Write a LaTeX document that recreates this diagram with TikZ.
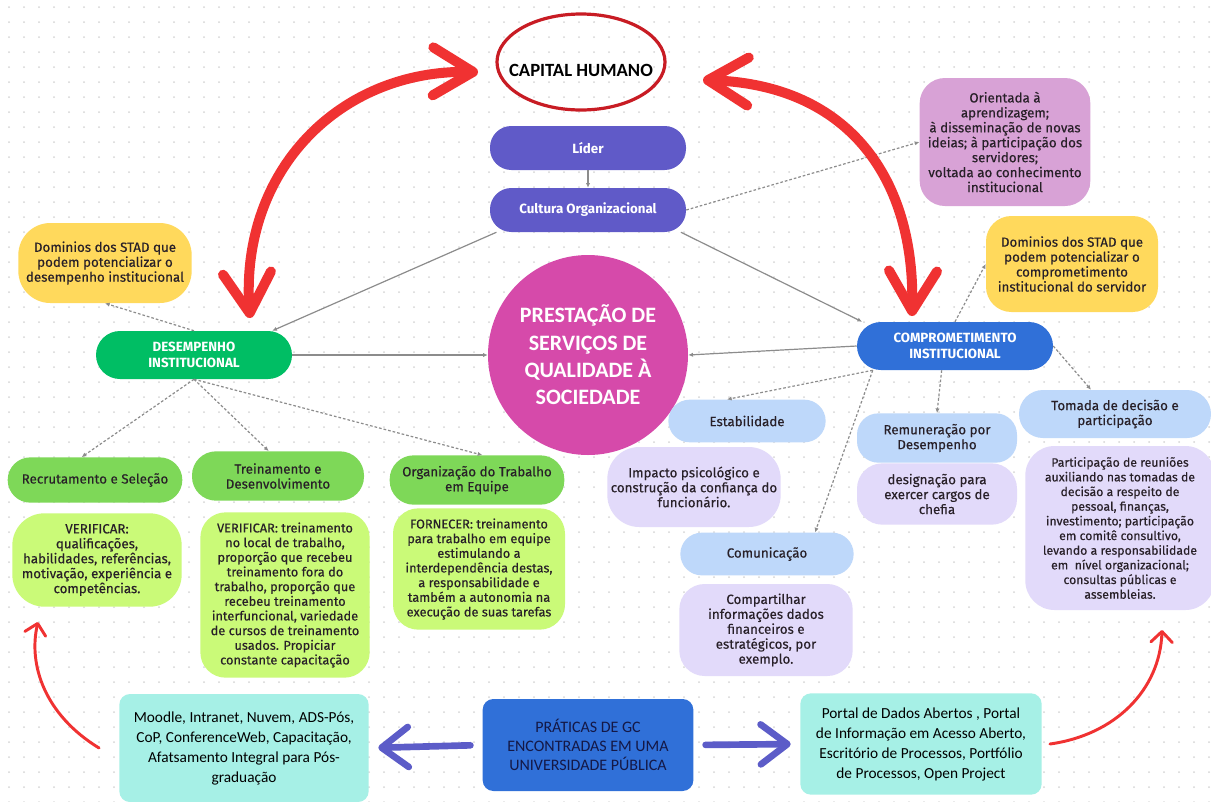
\documentclass[tikz,border=0pt]{standalone}
\usepackage{fontspec}
\setmainfont{Fira Sans}
\newfontfamily\boxfont{Fira Sans}[FakeBold=0.3]
\newfontfamily\condfont{Carlito}
\usepackage{tikz}
\usetikzlibrary{arrows.meta}

\definecolor{inktxt}{RGB}{40,32,40}
\definecolor{gridpt}{RGB}{214,214,214}
\definecolor{ringred}{RGB}{200,28,36}
\definecolor{redarr}{RGB}{240,50,50}
\definecolor{purpbox}{RGB}{96,90,200}
\definecolor{orchid}{RGB}{216,162,214}
\definecolor{sunny}{RGB}{255,217,92}
\definecolor{deskgreen}{RGB}{0,190,100}
\definecolor{leafgreen}{RGB}{126,216,88}
\definecolor{limecard}{RGB}{202,250,120}
\definecolor{magcircle}{RGB}{214,74,170}
\definecolor{royal}{RGB}{48,112,216}
\definecolor{skyblue}{RGB}{190,216,250}
\definecolor{lavcard}{RGB}{226,218,250}
\definecolor{aqua}{RGB}{166,240,230}
\definecolor{gcpurple}{RGB}{92,92,200}
\definecolor{linkgray}{RGB}{140,140,140}
\definecolor{navytxt}{RGB}{20,24,70}

\begin{document}
\begin{tikzpicture}[x=0.75pt,y=0.75pt,yscale=-1,
  txt/.style={align=center,text=inktxt,inner sep=1pt,font=\boxfont\fontsize{10}{11.2}\selectfont},
  pill/.style={txt,fill=#1,rounded corners=16pt},
  card/.style={txt,fill=#1,rounded corners=19pt},
  hub/.style={pill=#1,text=white,font=\bfseries\fontsize{10}{11.5}\selectfont},
  bottombox/.style={align=center,fill=aqua,rounded corners=8pt,text=black,
    font=\condfont\fontsize{11.5}{15}\selectfont},
  link/.style={draw=linkgray,line width=0.9pt,-{Latex[length=3.5pt,width=3.2pt]}},
  dlink/.style={link,dash pattern=on 2pt off 1.5pt},
  bigred/.style={draw=redarr,line width=7.5pt,line cap=round,
    {Straight Barb[length=30pt,width=36pt,round]}-{Straight Barb[length=30pt,width=36pt,round]}},
  smallred/.style={draw=redarr,line width=2.2pt,line cap=round,-{Straight Barb[length=8pt,width=16pt,round]}},
  gcarrow/.style={draw=gcpurple,line width=5pt,line cap=round,-{Straight Barb[length=20pt,width=30pt,round]},
    shorten <=9pt,shorten >=7pt}]
\useasboundingbox (0,0) rectangle (1211,801);
\fill[white] (0,0) rectangle (1211,801);
% dotted background
\foreach \i in {0,...,80}{\foreach \j in {0,...,53}{\fill[gridpt] (\i*15+9,\j*15+7) circle (0.75pt);}}

% Text Node
\node[font=\condfont\bfseries\fontsize{14}{16}\selectfont] (capital) at (581,70) {CAPITAL HUMANO};
\draw[ringred,line width=2.4pt] (capital.center) ++(0,-8) ellipse [x radius=84, y radius=48];
% Text Node
\node[hub=purpbox,minimum width=147pt,minimum height=33pt] (lider) at (588,148) {Líder};
% Text Node
\node[hub=purpbox,minimum width=147pt,minimum height=33pt] (cultura) at (588,210) {Cultura Organizacional};
% Text Node
\node[card=orchid,minimum width=128pt,minimum height=96pt] (orient) at (1005,142) {Orientada à\\aprendizagem;\\à disseminação de novas\\ideias; à participação dos\\servidores;\\voltada ao conhecimento\\institucional};
% Text Node
\node[card=sunny,minimum width=129pt,minimum height=72pt] (stadR) at (1072,264) {Dominios dos STAD que\\podem potencializar o\\comprometimento\\institucional do servidor};
% Text Node
\node[card=sunny,minimum width=130pt,minimum height=60pt,rounded corners=24pt] (stadL) at (105,263) {Dominios dos STAD que\\podem potencializar o\\desempenho institucional};
% Text Node
\node[hub=deskgreen,minimum width=147pt,minimum height=36pt,rounded corners=18pt] (desemp) at (194,355) {DESEMPENHO\\INSTITUCIONAL};
% Text Node
\node[circle,fill=magcircle,minimum size=150pt,inner sep=0pt,align=center,text=white,
  font=\condfont\bfseries\fontsize{16.5}{20.5}\selectfont] (prest) at (588,355) {PRESTAÇÃO DE\\SERVIÇOS DE\\QUALIDADE À\\SOCIEDADE};
% Text Node
\node[hub=royal,minimum width=147pt,minimum height=36pt,rounded corners=18pt] (compr) at (955,346) {COMPROMETIMENTO\\INSTITUCIONAL};
% Text Node
\node[pill=skyblue,minimum width=118pt,minimum height=32pt] (estab) at (747,421) {Estabilidade};
% Text Node
\node[card=lavcard,minimum width=130pt,minimum height=60pt,rounded corners=24pt] (impacto) at (694,487) {Impacto psicológico e\\construção da confiança do\\funcionário.};
% Text Node
\node[pill=skyblue,minimum width=130pt,minimum height=32pt] (comun) at (767,554) {Comunicação};
% Text Node
\node[card=lavcard,minimum width=130pt,minimum height=69pt] (compart) at (766,630) {Compartilhar\\informações dados\\financeiros e\\estratégicos, por\\exemplo.};
% Text Node
\node[card=lavcard,minimum width=120pt,minimum height=46pt] (design) at (937,494) {designação para\\exercer cargos de\\chefia};
% Text Node
\node[pill=skyblue,minimum width=120pt,minimum height=37pt] (remun) at (937,438) {Remuneração por\\Desempenho};
% Text Node
\node[pill=skyblue,minimum width=144pt,minimum height=36pt,rounded corners=18pt] (tomada) at (1115,414) {Tomada de decisão e\\participação};
% Text Node
\node[card=lavcard,minimum width=142pt,minimum height=123pt,rounded corners=22pt,
  font=\boxfont\fontsize{9.2}{11}\selectfont] (partic) at (1120,528) {Participação de reuniões\\auxiliando nas tomadas de\\decisão a respeito de\\pessoal, finanças,\\investimento; participação\\em comitê consultivo,\\levando a responsabilidade\\em\ \ nível organizacional;\\consultas públicas e\\assembleias.};
% Text Node
\node[pill=leafgreen,minimum width=131pt,minimum height=34pt,rounded corners=17pt] (recrut) at (95,480) {Recrutamento e Seleção};
% Text Node
\node[pill=leafgreen,minimum width=129pt,minimum height=37pt,rounded corners=18pt] (trein) at (278,476) {Treinamento e\\Desenvolvimento};
% Text Node
\node[pill=leafgreen,minimum width=131pt,minimum height=37pt,rounded corners=18pt] (organ) at (477,480) {Organização do Trabalho\\em Equipe};
% Text Node
\node[card=limecard,minimum width=127pt,minimum height=70pt,rounded corners=24pt] (verif1) at (97,560) {VERIFICAR:\\qualificações,\\habilidades, referências,\\motivação, experiência e\\competências.};
% Text Node
\node[card=limecard,minimum width=127pt,minimum height=124pt,
  font=\boxfont\fontsize{9.6}{11}\selectfont] (verif2) at (285,595) {VERIFICAR: treinamento\\no local de trabalho,\\proporção que recebeu\\treinamento fora do\\trabalho, proporção que\\recebeu treinamento\\interfuncional, variedade\\de cursos de treinamento\\usados. Propiciar\\constante capacitação};
% Text Node
\node[card=limecard,minimum width=129pt,minimum height=91pt,
  font=\boxfont\fontsize{9.6}{11}\selectfont] (fornec) at (479,569) {FORNECER: treinamento\\para trabalho em equipe\\estimulando a\\interdependência destas,\\a responsabilidade e\\também a autonomia na\\execução de suas tarefas};
% Text Node
\node[bottombox,minimum width=187pt,minimum height=81pt] (moodle) at (244,748) {Moodle, Intranet, Nuvem, ADS-Pós,\\CoP, ConferenceWeb, Capacitação,\\Afatsamento Integral para Pós-\\graduação};
% Text Node
\node[fill=royal,rounded corners=8pt,minimum width=158pt,minimum height=69pt,align=center,text=navytxt,
  font=\condfont\fontsize{12}{14.5}\selectfont] (praticas) at (588,745) {PRÁTICAS DE GC\\ENCONTRADAS EM UMA\\UNIVERSIDADE PÚBLICA};
% Text Node
\node[bottombox,minimum width=181pt,minimum height=76pt] (portal) at (921,744) {Portal de Dados Abertos , Portal\\de Informação em Acesso Aberto,\\Escritório de Processos, Portfólio\\de Processos, Open Project};

% free ends of the hand drawn arrows
\coordinate (hcL) at (478,72);
\coordinate (hcR) at (703,80);
\coordinate (desArr) at (250,318);
\coordinate (comArr) at (912,316);
\coordinate (vtip) at (38,622);
\coordinate (ptip) at (1162,630);

% Connection
\draw[link] (lider) -- (cultura);
% Connection
\draw[link] ([xshift=5pt]cultura.south west) -- ([xshift=-15pt]desemp.north east);
% Connection
\draw[link] ([xshift=-4pt]cultura.south east) -- ([xshift=4pt]compr.north west);
% Connection
\draw[dlink] (cultura.east) -- (orient.west);
% Connection
\draw[link] (desemp.east) -- (prest.west);
% Connection
\draw[link] (compr.west) -- (prest.east);
% Connection
\draw[dlink] (desemp.north) -- (stadL.south);
% Connection
\draw[dlink] (desemp.south) -- ([xshift=-10pt]recrut.north);
% Connection
\draw[dlink] (desemp.south) -- ([xshift=-7pt]trein.north);
% Connection
\draw[dlink] (desemp.south) -- ([xshift=4pt]organ.north);
% Connection
\draw[dlink] (compr.north) -- (stadR.west);
% Connection
\draw[dlink] ([xshift=12pt]compr.south west) -- ([xshift=-15pt]estab.north);
% Connection
\draw[dlink] ([xshift=12pt]compr.south west) -- ([xshift=36pt]comun.north);
% Connection
\draw[dlink] ([xshift=-10pt]compr.south) -- (remun.north);
% Connection
\draw[dlink] (compr.east) -- ([xshift=-18pt]tomada.north);

% Connection
\draw[bigred] (desArr) .. controls (240,170) and (340,70) .. (hcL);
% Connection
\draw[bigred] (hcR) .. controls (850,85) and (915,180) .. (comArr);
% Connection
\draw[smallred] ([xshift=-15pt]moodle.west) .. controls (45,715) and (28,665) .. (vtip);
% Connection
\draw[smallred] ([xshift=6pt]portal.east) .. controls (1115,735) and (1160,690) .. (ptip);
% Connection
\draw[gcarrow] (praticas.west) -- (moodle.east);
% Connection
\draw[gcarrow] (praticas.east) -- (portal.west);

\end{tikzpicture}
\end{document}
